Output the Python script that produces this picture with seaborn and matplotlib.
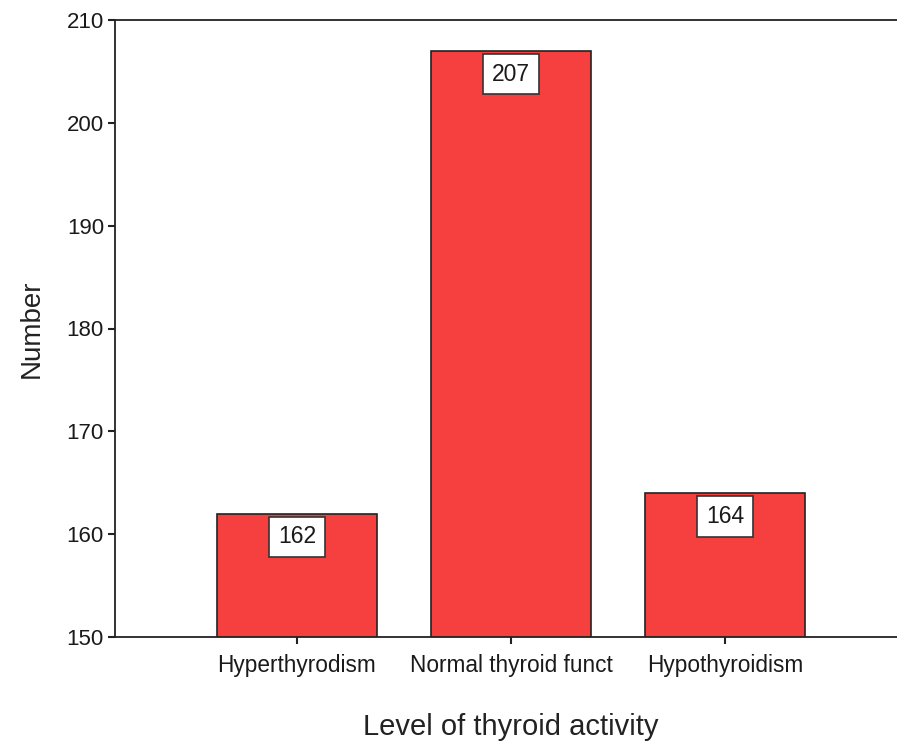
import matplotlib
matplotlib.use("Agg")
import matplotlib.pyplot as plt
import seaborn as sns
import pandas as pd

categories = ["Hyperthyrodism", "Normal thyroid funct", "Hypothyroidism"]
counts = [162, 207, 164]
y_ticks = [150, 160, 170, 180, 190, 200, 210]

sns.set_theme(style="white")
plt.rcParams["font.family"] = ["Liberation Sans", "DejaVu Sans"]

df = pd.DataFrame({"level": categories, "count": counts})

fig = plt.figure(figsize=(8.97, 7.42), dpi=100)
ax = fig.add_axes([115 / 897, 1 - 637 / 742, (907 - 115) / 897, (637 - 20) / 742])

sns.barplot(data=df, x="level", y="count", ax=ax, color="#F5403F",
            saturation=1, width=0.75, edgecolor="#222222", linewidth=1.2)

ax.set_ylim(150, 210)
ax.set_xlim(-0.85, 2.85)
ax.set_yticks(y_ticks)
ax.set_yticklabels([str(t) for t in y_ticks], fontsize=16, color="#1a1a1a")
ax.set_xticks(range(len(categories)))
ax.set_xticklabels(categories, fontsize=16.3, color="#1a1a1a")
ax.tick_params(axis="both", direction="out", length=5, width=1.5, color="#222222",
               left=True, bottom=True, pad=3)
ax.tick_params(axis="x", pad=7)

for s in ax.spines.values():
    s.set_visible(True)
    s.set_color("#222222")
    s.set_linewidth(1.3)

ax.set_xlabel("Level of thyroid activity", fontsize=21, color="#222222", labelpad=26)
ax.set_ylabel("Number", fontsize=20, color="#222222", labelpad=16)

for i, v in enumerate(counts):
    ax.annotate(str(v), xy=(i, v), xytext=(0, -8.5), textcoords="offset points",
                ha="center", va="top", fontsize=16.5, color="#1a1a1a",
                bbox=dict(boxstyle="square,pad=0.38", facecolor="white",
                          edgecolor="#333333", linewidth=1.2))

fig.savefig("out.png", dpi=100)
